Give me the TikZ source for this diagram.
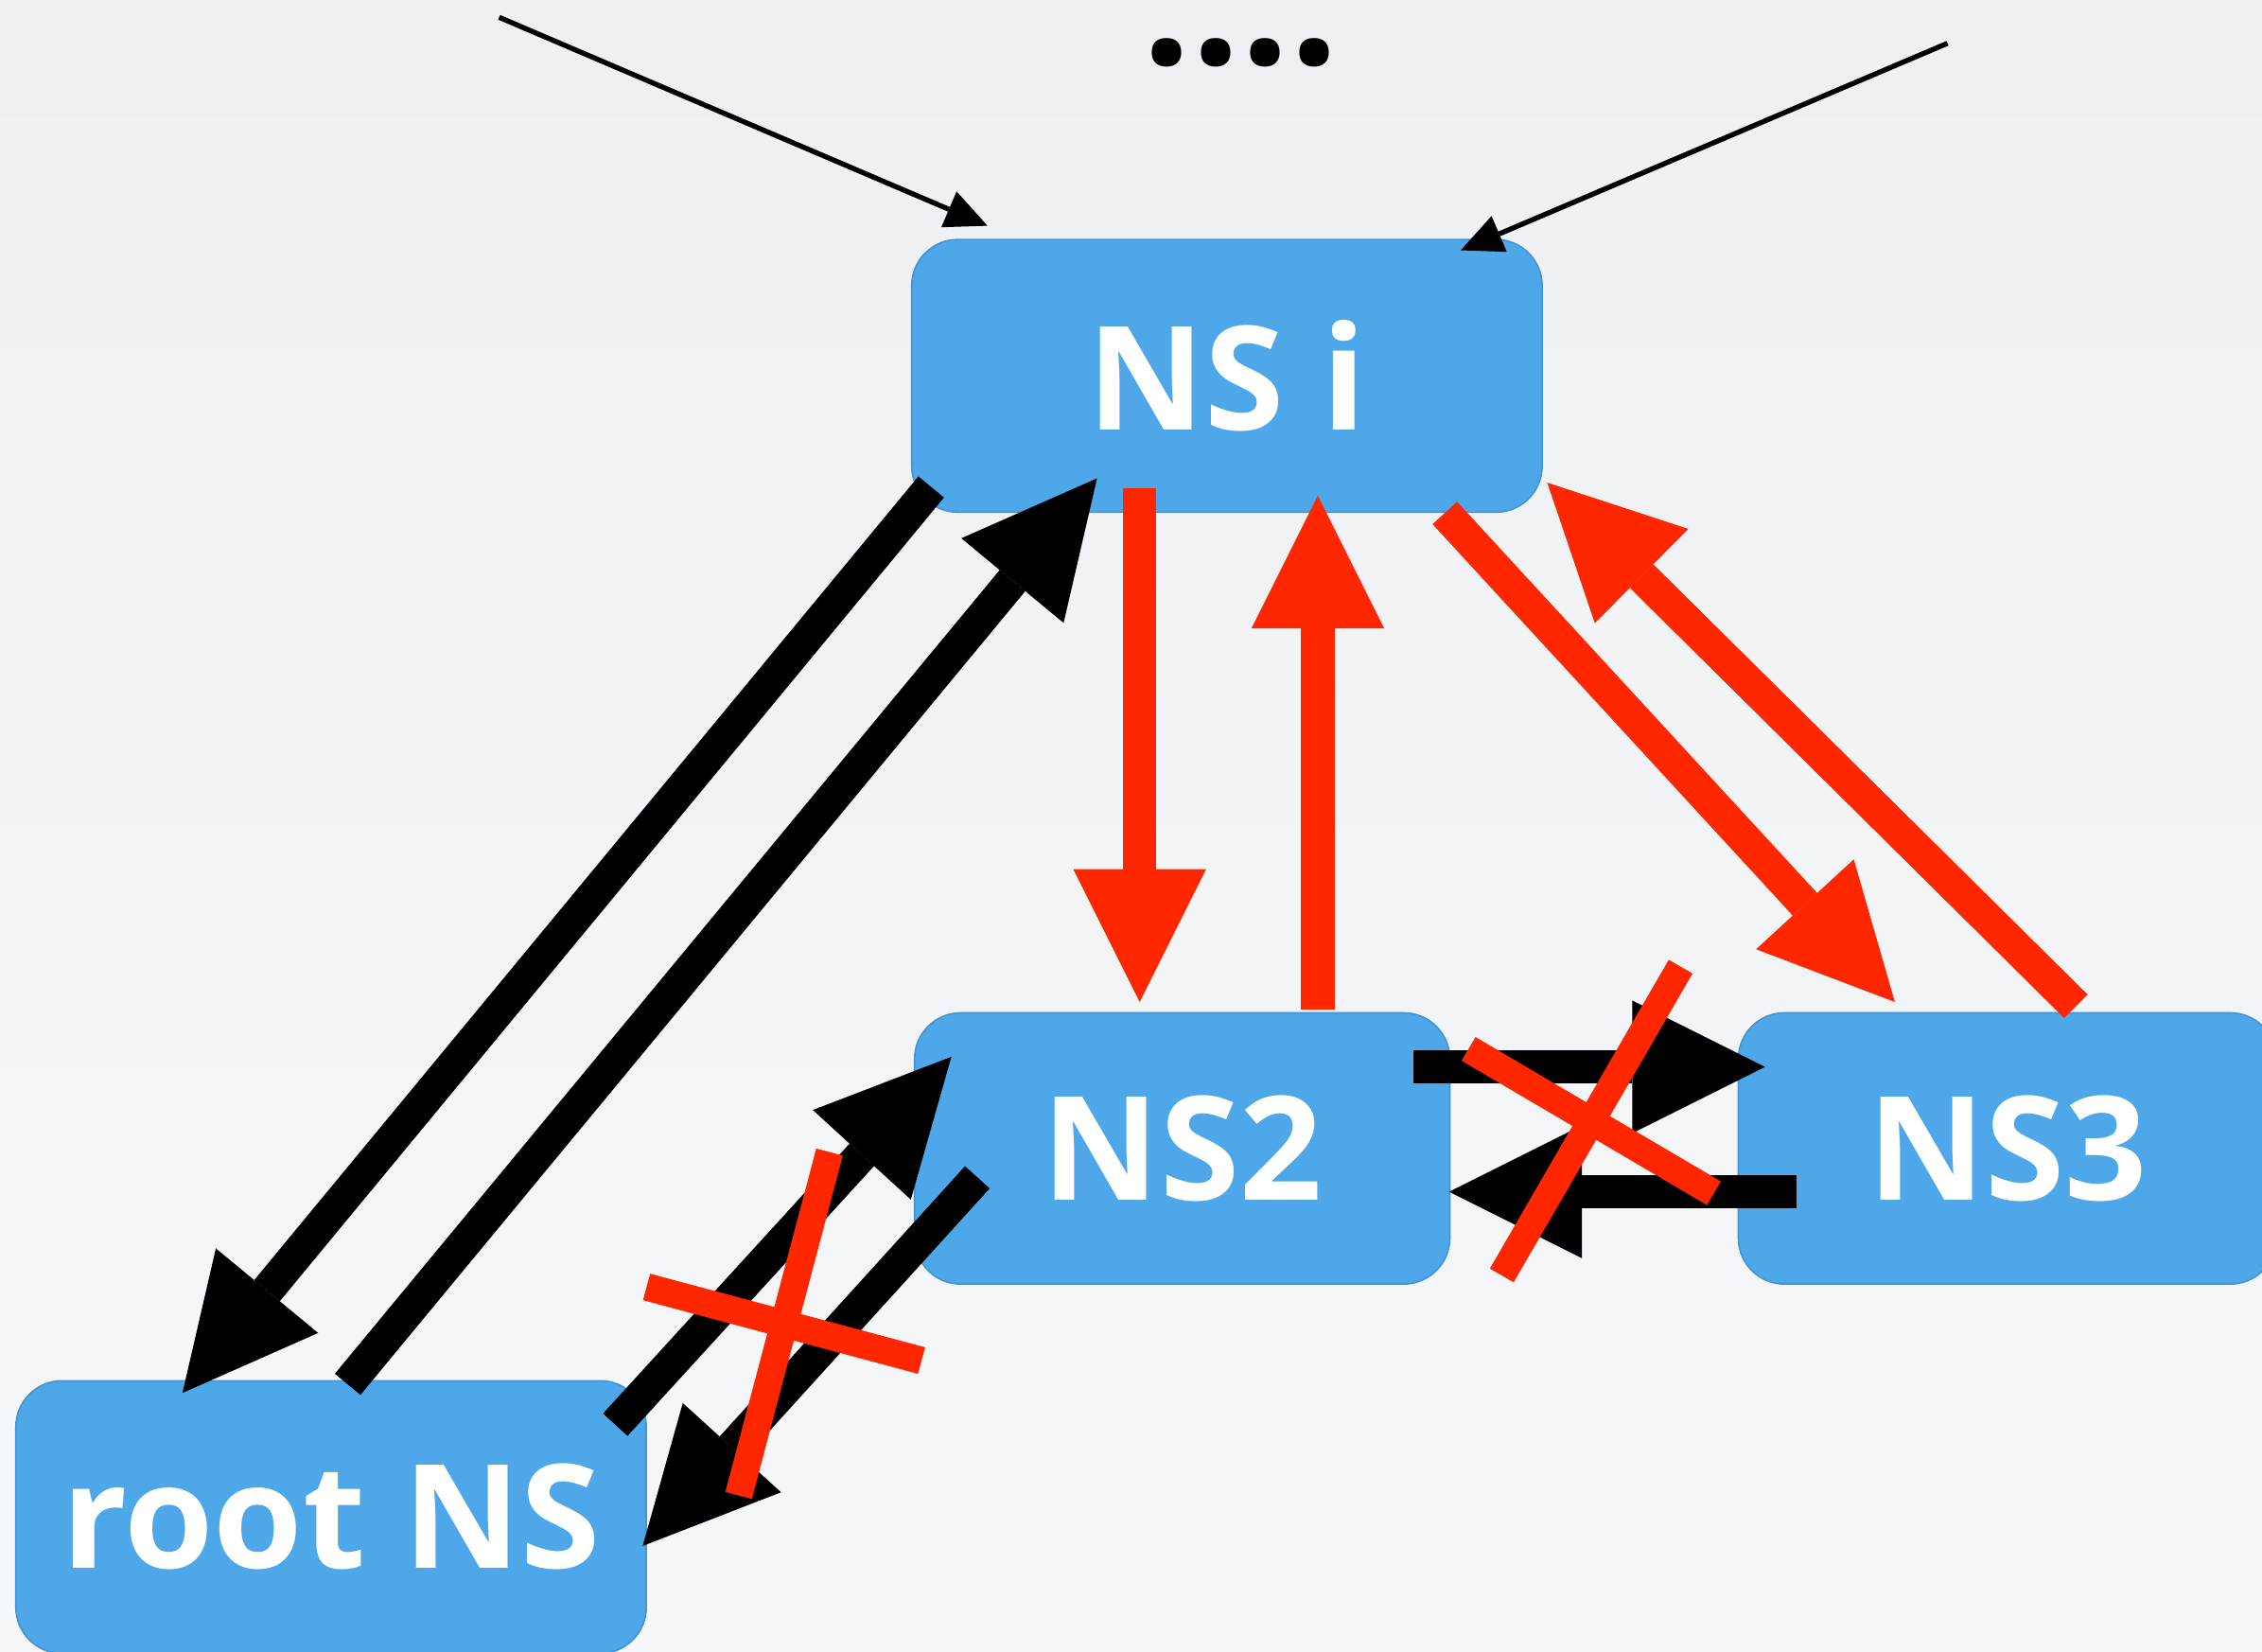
\documentclass[tikz,border=0pt]{standalone}
\usepackage{fontspec}
\setmainfont{Open Sans}
\usetikzlibrary{arrows.meta}

\definecolor{boxblue}{RGB}{77,167,233}
\definecolor{boxedge}{RGB}{66,148,212}
\definecolor{xred}{RGB}{255,38,0}
\definecolor{bgtop}{RGB}{239,240,243}
\definecolor{bgbot}{RGB}{246,247,249}

\begin{document}
\begin{tikzpicture}[x=0.1mm, y=-0.1mm,
    nsbox/.style={draw=boxedge, line width=0.3pt, fill=boxblue, rounded corners=3.2mm,
        text=white, font=\fontsize{28.5}{30}\selectfont\bfseries, inner sep=0pt},
    fat/.style={line width=2.3mm, -{Triangle[length=9.2mm, width=9.2mm, line width=0pt]}},
    blackmsg/.style={fat, black},
    redmsg/.style={fat, xred},
    cross/.style={xred, line width=1.9mm},
    hint/.style={black, line width=0.35mm, -{Triangle[length=2.9mm, width=2.7mm, line width=0pt]}}]

    % Background
    \useasboundingbox (0,0) rectangle (1568,1145);
    \shade[top color=bgtop, bottom color=bgbot] (0,0) rectangle (1568,1145);

    % Name servers
    \node[nsbox, minimum width=43.7mm, minimum height=18.9mm] (nsi) at (850.5,260.5) {NS i};
    \node[nsbox, minimum width=37.1mm, minimum height=18.8mm] (ns2) at (819.5,796) {NS2};
    \node[nsbox, minimum width=37.3mm, minimum height=18.8mm] (ns3) at (1391.5,796) {NS3};
    \node[nsbox, minimum width=43.7mm, minimum height=18.9mm] (root) at (229.5,1051.5) {root NS};

    % Incoming from above
    \coordinate (fromL) at (346,12);
    \coordinate (fromR) at (1350,30);
    \draw[hint] (fromL) -- ([shift={(53,-9)}]nsi.north west);
    \draw[hint] (fromR) -- ([shift={(-57,8)}]nsi.north east);
    \node[font=\fontsize{34}{34}\selectfont\bfseries, inner sep=0pt, anchor=base] (more) at (860,45) {....};

    % NS i <-> root NS
    \draw[blackmsg] ([shift={(14,-18)}]nsi.south west) -- ([shift={(116,9)}]root.north west);
    \draw[blackmsg] ([shift={(11.5,3)}]root.north) -- ([shift={(129,-24)}]nsi.south west);

    % NS i <-> NS2, NS3
    \draw[redmsg] ([shift={(-60.5,-17)}]nsi.south) -- ([shift={(-29.5,-7)}]ns2.north);
    \draw[redmsg] ([shift={(94,-2)}]ns2.north) -- ([shift={(63,-12)}]nsi.south);
    \draw[redmsg] ([shift={(-68,0)}]nsi.south east) -- ([shift={(109,-7)}]ns3.north west);
    \draw[redmsg] ([shift={(47.5,-4)}]ns3.north) -- ([shift={(3,-21)}]nsi.south east);

    % Crossed out links
    \draw[blackmsg] ([shift={(-26,38)}]ns2.north east) -- ([shift={(19,38)}]ns3.north west);
    \draw[blackmsg] ([shift={(41,30)}]ns3.west) -- ([shift={(-1,30)}]ns2.east);
    \draw[blackmsg] ([shift={(-22,31)}]root.north east) -- ([shift={(26,31)}]ns2.north west);
    \draw[blackmsg] ([shift={(44,20)}]ns2.west) -- ([shift={(-3,20)}]root.east);

    \coordinate (cutH) at (1103,777);
    \draw[cross] ([shift={(-62,107)}]cutH) -- ([shift={(62,-107)}]cutH);
    \draw[cross] ([shift={(-85,-50)}]cutH) -- ([shift={(85,50)}]cutH);
    \coordinate (cutD) at (543.5,917.5);
    \draw[cross] ([shift={(31.5,-119)}]cutD) -- ([shift={(-31.5,119)}]cutD);
    \draw[cross] ([shift={(-95.3,-25.5)}]cutD) -- ([shift={(95.3,25.5)}]cutD);

\end{tikzpicture}
\end{document}
